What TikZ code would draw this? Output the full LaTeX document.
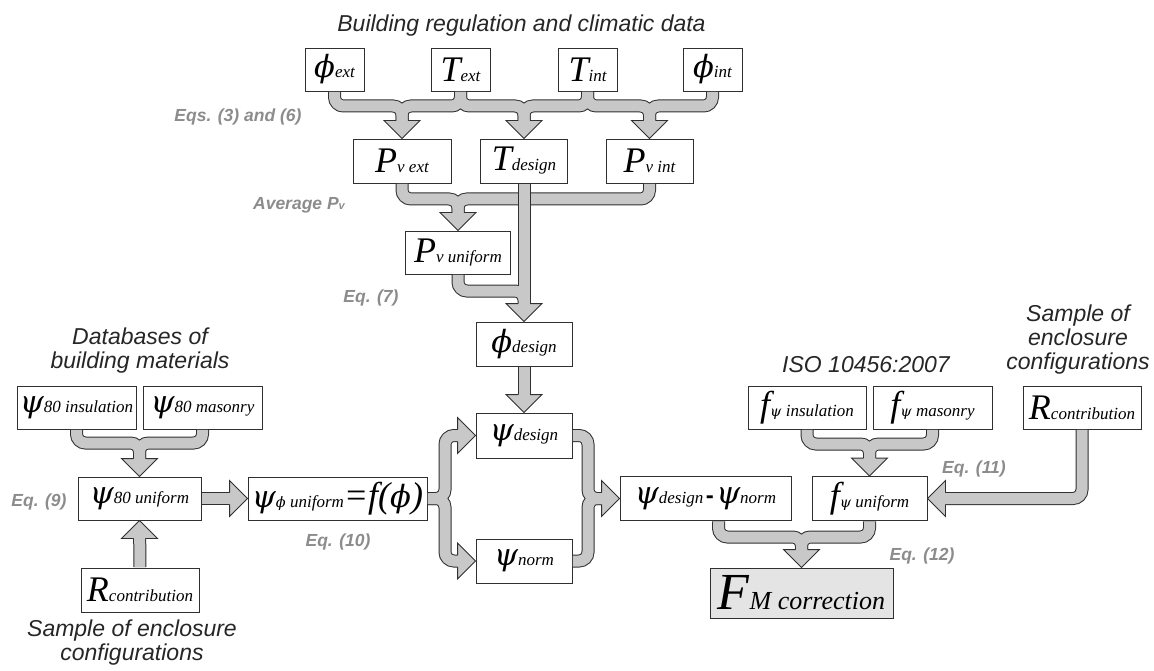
\documentclass[tikz,border=0pt]{standalone}
\usepackage{fontspec}
\setmainfont{Liberation Serif}
\setsansfont{Liberation Sans}
\newfontfamily\greekfont[Scale=0.85]{DejaVu Serif}
\definecolor{pipegray}{HTML}{C8C8C8}
\definecolor{edgegray}{HTML}{303030}
\definecolor{eqgray}{HTML}{8C8C8C}
\definecolor{boxgray}{HTML}{E4E4E4}
\newcommand{\bigv}[1]{{\fontsize{36}{36}\selectfont\itshape #1}}
\newcommand{\subv}[1]{{\fontsize{17}{17}\selectfont\itshape #1}}
\newcommand{\gphi}{{\greekfont\itshape ϕ}}
\newcommand{\gpsi}{{\greekfont\itshape ψ}}
\tikzset{
    fathead/.pic={
        \fill[pipegray] (-18,-18) -- (0,0) -- (18,-18) -- cycle;
        \draw[edgegray, line width=0.9pt] (-6,-18) -- (-18,-18) -- (0,0) -- (18,-18) -- (6,-18);
    }
}
\begin{document}
\begin{tikzpicture}[x=1pt, y=-1pt,
    every node/.style={draw=edgegray, line width=0.9pt, fill=white, inner sep=0pt, minimum height=43pt},
    lbl/.style={draw=none, fill=none, minimum height=0pt, align=center, text=black!85, font=\sffamily\itshape\fontsize{23}{24}\selectfont},
    eq/.style={draw=none, fill=none, minimum height=0pt, anchor=base, text=eqgray, font=\sffamily\bfseries\itshape\fontsize{17.5}{18}\selectfont},
    pipe/.style={rounded corners=9pt, shorten >=16pt, shorten <=0.4pt}]
    \useasboundingbox (0,0) rectangle (1154,671);

    % Nodes
    \node[minimum width=59pt] (phiext) at (334.5,69.5) {\bigv{\gphi}\subv{ext}};
    \node[minimum width=59pt] (Text) at (460.5,69.5) {\bigv{T}\subv{ext}};
    \node[minimum width=59pt] (Tint) at (587.5,69.5) {\bigv{T}\subv{int}};
    \node[minimum width=59pt] (phiint) at (712.5,69.5) {\bigv{\gphi}\subv{int}};
    \node[minimum width=98pt, minimum height=44pt] (Pvext) at (402,161) {\bigv{P}\subv{v ext}};
    \node[minimum width=87pt, minimum height=44pt] (Tdesign) at (524,161) {\bigv{T}\subv{design}};
    \node[minimum width=87pt, minimum height=44pt] (Pvint) at (649.5,161) {\bigv{P}\subv{v int}};
    \node[minimum width=105pt] (Pvuni) at (458,252.5) {\bigv{P}\subv{v uniform}};
    \node[minimum width=96pt, minimum height=44pt] (phidesign) at (524,344) {\bigv{\gphi}\subv{design}};
    \node[minimum width=96pt, minimum height=45pt] (psidesign) at (524,435.5) {\bigv{\gpsi}\subv{design}};
    \node[minimum width=96pt, minimum height=44pt] (psinorm) at (524,561) {\bigv{\gpsi}\subv{norm}};
    \node[minimum width=119pt] (psiins) at (76.5,407.5) {\bigv{\gpsi}\subv{80 insulation}};
    \node[minimum width=119pt] (psimas) at (202.5,407.5) {\bigv{\gpsi}\subv{80 masonry}};
    \node[minimum width=123pt] (psiuni) at (139.5,498.5) {\bigv{\gpsi}\subv{80 uniform}};
    \node[minimum width=179pt] (psiphi) at (337.5,498.5) {\bigv{\gpsi}\subv{\gphi{} uniform}\bigv{=f(\gphi)}};
    \node[minimum width=118pt, minimum height=44pt] (Rleft) at (140,590) {\bigv{R}\subv{contribution}};
    \node[minimum width=118pt] (fins) at (807,407.5) {\bigv{f}\subv{\gpsi{} insulation}};
    \node[minimum width=119pt] (fmas) at (932.5,407.5) {\bigv{f}\subv{\gpsi{} masonry}};
    \node[minimum width=118pt] (Rright) at (1082,407.5) {\bigv{R}\subv{contribution}};
    \node[minimum width=171pt, minimum height=44pt] (psidiff) at (705.5,498.5) {\bigv{\gpsi}\subv{design} {\sffamily\bfseries\fontsize{24}{24}\selectfont -} \bigv{\gpsi}\subv{norm}};
    \node[minimum width=115pt, minimum height=44pt] (funi) at (869.5,498.5) {\bigv{f}\subv{\gpsi{} uniform}};
    \node[minimum width=183pt, minimum height=50pt, fill=boxgray] (FM) at (801.5,593) {{\fontsize{52}{52}\selectfont\itshape F}{\fontsize{26}{26}\selectfont\itshape M correction}};

    % Labels
    \node[lbl, anchor=base] (ttop) at (521.5,32) {Building regulation and climatic data};
    \node[lbl] (tdb) at (140,351) {Databases of\\building materials};
    \node[lbl] (tsl) at (132,643) {Sample of enclosure\\configurations};
    \node[lbl] (tsr) at (1078,340) {Sample of\\enclosure\\configurations};
    \node[lbl, anchor=base] (tiso) at (866,372) {ISO 10456:2007};
    \node[eq] (e36) at (238,122) {Eqs. (3) and (6)};
    \node[eq] (eavg) at (299,210) {Average P{\fontsize{11}{11}\selectfont v}};
    \node[eq] (e7) at (371,302) {Eq. (7)};
    \node[eq] (e9) at (39,506) {Eq. (9)};
    \node[eq] (e10) at (338,546) {Eq. (10)};
    \node[eq] (e11) at (974,473) {Eq. (11)};
    \node[eq] (e12) at (922,560) {Eq. (12)};

    % bar levels
    \coordinate (top) at (0,106);
    \coordinate (mid) at (0,199);
    \coordinate (low) at (0,291);
    \coordinate (lbar) at (0,443);
    \coordinate (rbar) at (0,444);
    \coordinate (bbar) at (0,537);
    \coordinate (splitL) at (445,498.5);
    \coordinate (joinR) at (588,498.5);

    % Pipes: dark edge first, grey core on top
    \foreach \lw/\col in {13pt/edgegray, 11pt/pipegray} {
        \draw[pipe, line width=\lw, \col] (phiext.south) |- (Pvext.north |- top) -- (Pvext.north);
        \draw[pipe, line width=\lw, \col] (Text.south) |- (Pvext.north |- top) -- (Pvext.north);
        \draw[pipe, line width=\lw, \col] (Text.south) |- (Tdesign.north |- top) -- (Tdesign.north);
        \draw[pipe, line width=\lw, \col] (Tint.south) |- (Tdesign.north |- top) -- (Tdesign.north);
        \draw[pipe, line width=\lw, \col] (Tint.south) |- (Pvint.north |- top) -- (Pvint.north);
        \draw[pipe, line width=\lw, \col] (phiint.south) |- (Pvint.north |- top) -- (Pvint.north);
        \draw[pipe, line width=\lw, \col] (Pvext.south) |- (Pvuni.north |- mid) -- (Pvuni.north);
        \draw[pipe, line width=\lw, \col] (Pvint.south) |- (Pvuni.north |- mid) -- (Pvuni.north);
        \draw[pipe, line width=\lw, \col] (phidesign.south) -- (psidesign.north);
        \draw[pipe, line width=\lw, \col] (psiins.south) |- (psiuni.north |- lbar) -- (psiuni.north);
        \draw[pipe, line width=\lw, \col] (psimas.south) |- (psiuni.north |- lbar) -- (psiuni.north);
        \draw[pipe, line width=\lw, \col] (Rleft.north) -- (psiuni.south);
        \draw[pipe, line width=\lw, \col] (psiuni.east) -- (psiphi.west);
        \draw[pipe, line width=\lw, \col] (psiphi.east) -- (splitL) |- (psidesign.west);
        \draw[pipe, line width=\lw, \col] (psiphi.east) -- (splitL) |- (psinorm.west);
        \draw[pipe, line width=\lw, \col] (psidesign.east) -| (joinR) -- (psidiff.west);
        \draw[pipe, line width=\lw, \col] (psinorm.east) -| (joinR) -- (psidiff.west);
        \draw[pipe, line width=\lw, \col] (fins.south) |- (funi.north |- rbar) -- (funi.north);
        \draw[pipe, line width=\lw, \col] (fmas.south) |- (funi.north |- rbar) -- (funi.north);
        \draw[pipe, line width=\lw, \col] (Rright.south) |- (funi.east);
        \draw[pipe, line width=\lw, \col] ([xshift=13pt]psidiff.south) |- (FM.north |- bbar) -- (FM.north);
        \draw[pipe, line width=\lw, \col] (funi.south) |- (FM.north |- bbar) -- (FM.north);
    }
    % T design runs over the P_v bar
    \foreach \lw/\col in {13pt/edgegray, 11pt/pipegray} {
        \draw[pipe, line width=\lw, \col] (Tdesign.south) -- (phidesign.north);
        \draw[pipe, line width=\lw, \col] (Pvuni.south) |- (phidesign.north |- low) -- (phidesign.north);
    }

    % Heads
    \foreach \n in {Pvext, Tdesign, Pvint, Pvuni, phidesign, psidesign, psiuni, funi, FM} {
        \pic at (\n.north) {fathead};
    }
    \foreach \n in {psiphi, psidesign, psinorm, psidiff} {
        \pic[rotate=90] at (\n.west) {fathead};
    }
    \pic[rotate=180] at (psiuni.south) {fathead};
    \pic[rotate=-90] at (funi.east) {fathead};
\end{tikzpicture}
\end{document}
